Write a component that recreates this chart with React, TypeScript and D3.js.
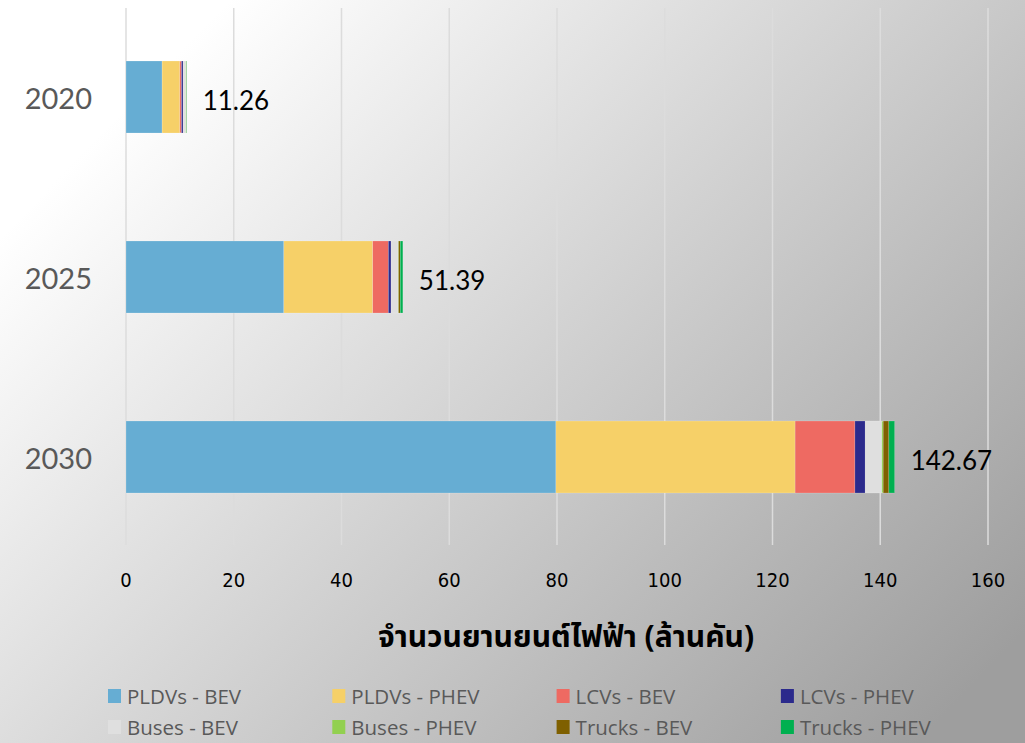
import React from "react";
import * as d3 from "d3";

const years = ["2020", "2025", "2030"];
const seriesNames = [
  "PLDVs - BEV",
  "PLDVs - PHEV",
  "LCVs - BEV",
  "LCVs - PHEV",
  "Buses - BEV",
  "Buses - PHEV",
  "Trucks - BEV",
  "Trucks - PHEV",
];
const seriesColors = ["#66add3", "#f6d068", "#ee6a62", "#2b2a8c", "#dfdfdf", "#92d050", "#7f6000", "#00b050"];
const pldvBev = [6.7, 29.3, 79.8];
const pldvPhev = [3.3, 16.5, 44.4];
const lcvBev = [0.3, 2.9, 11.1];
const lcvPhev = [0.3, 0.5, 1.9];
const busBev = [0.5, 1.3, 3.1];
const busPhev = [0.05, 0.1, 0.25];
const truckBev = [0.05, 0.3, 1.05];
const truckPhev = [0.06, 0.49, 1.07];
const totals = ["11.26", "51.39", "142.67"];
const xTicks = [0, 20, 40, 60, 80, 100, 120, 140, 160];
const axisTitle = "จำนวนยานยนต์ไฟฟ้า (ล้านคัน)";

const W = 1025;
const H = 743;

export default function App() {
  const seriesValues = [pldvBev, pldvPhev, lcvBev, lcvPhev, busBev, busPhev, truckBev, truckPhev];
  const table = years.map((y, i) => {
    const row: any = { year: y };
    seriesNames.forEach((s, k) => (row[s] = seriesValues[k][i]));
    return row;
  });
  const stacked = d3.stack<any>().keys(seriesNames)(table);
  const x = d3.scaleLinear().domain([0, 160]).range([126, 988]);
  const y = d3.scaleBand().domain(years).range([7, 547]).paddingInner(0.6).paddingOuter(0.3);
  const color = d3.scaleOrdinal<string, string>().domain(seriesNames).range(seriesColors);
  const ends = years.map((_, i) => d3.sum(seriesValues, (s) => s[i]));

  const legendCols = 4;
  const legendX0 = 108;
  const legendColW = 224.3;
  const legendY0 = 689;
  const legendRowH = 31;

  return (
    <svg width={W} height={H} style={{ position: "absolute", left: 0, top: 0 }}>
      <defs>
        <linearGradient id="bg" x1="0" y1="0.15" x2="1" y2="0.85">
          <stop offset="0.08" stopColor="#ffffff" />
          <stop offset="1" stopColor="#9e9e9e" />
        </linearGradient>
      </defs>
      <rect x={0} y={0} width={W} height={H} fill="url(#bg)" />
      {xTicks.map((t) => (
        <g key={t}>
          <line x1={x(t)} x2={x(t)} y1={8} y2={545} stroke="#dcdcdc" strokeWidth={1.5} />
          <text
            x={x(t)}
            y={580}
            textAnchor="middle"
            dominantBaseline="central"
            fontFamily="'Liberation Sans Narrow', 'DejaVu Sans Condensed', 'Roboto Condensed', sans-serif"
            fontSize={20}
            fill="#000"
          >
            {t}
          </text>
        </g>
      ))}
      {stacked.map((layer) => (
        <g key={layer.key} fill={color(layer.key)}>
          {layer.map((d, i) => (
            <rect
              key={i}
              x={x(d[0])}
              y={y(years[i])}
              width={Math.max(0, x(d[1]) - x(d[0]))}
              height={y.bandwidth()}
              stroke="#ffffff"
              strokeOpacity={0.35}
              strokeWidth={0.5}
            />
          ))}
        </g>
      ))}
      {years.map((yr) => (
        <text
          key={yr}
          x={92}
          y={(y(yr) as number) + y.bandwidth() / 2}
          textAnchor="end"
          dominantBaseline="central"
          fontFamily="'Lato', 'Open Sans', sans-serif"
          fontSize={29}
          fill="#595959"
        >
          {yr}
        </text>
      ))}
      {years.map((yr, i) => (
        <text
          key={"v" + yr}
          x={x(ends[i]) + 16}
          y={(y(yr) as number) + y.bandwidth() / 2 + 3}
          dominantBaseline="central"
          fontFamily="'Lato', 'Open Sans', sans-serif"
          fontSize={26}
          fill="#000"
        >
          {totals[i]}
        </text>
      ))}
      <text
        x={566}
        y={638}
        textAnchor="middle"
        dominantBaseline="central"
        fontFamily="'Noto Sans Thai', 'Noto Sans', 'DejaVu Sans', sans-serif"
        fontWeight="bold"
        fontSize={30}
        fill="#000"
      >
        {axisTitle}
      </text>
      {seriesNames.map((s, k) => {
        const col = k % legendCols;
        const row = Math.floor(k / legendCols);
        const lx = legendX0 + col * legendColW;
        const ly = legendY0 + row * legendRowH;
        return (
          <g key={s}>
            <rect x={lx} y={ly} width={13} height={14} fill={color(s)} />
            <text
              x={lx + 19}
              y={ly + 7}
              dominantBaseline="central"
              fontFamily="'Open Sans', 'Noto Sans', sans-serif"
              fontSize={20.5}
              fill="#595959"
            >
              {s}
            </text>
          </g>
        );
      })}
    </svg>
  );
}
